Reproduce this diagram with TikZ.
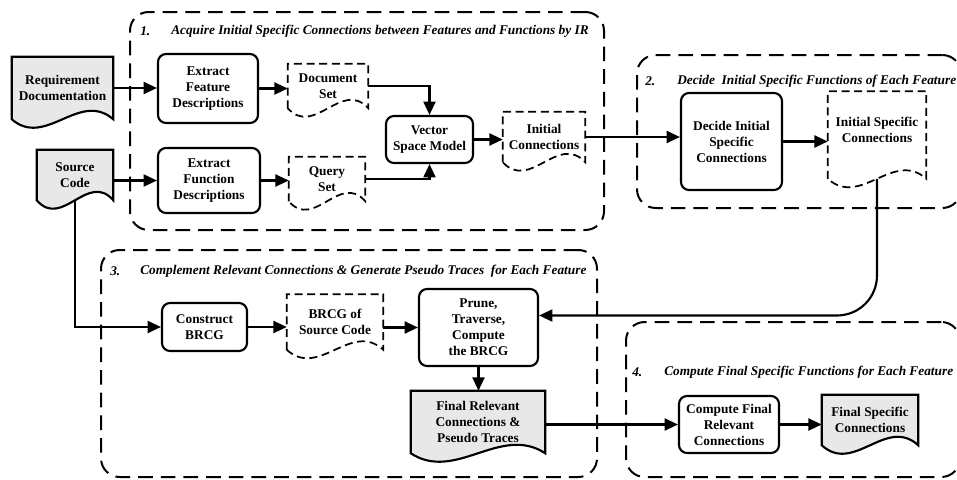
\documentclass[tikz,border=0pt]{standalone}
\usepackage{fontspec}
\setmainfont{Liberation Serif}
\usetikzlibrary{arrows.meta,calc}
\definecolor{docgray}{HTML}{E8E8E8}
\tikzset{
  lw/.style={line width=1.6pt},
  arr/.style={lw,-{Triangle[length=10pt,width=9pt]}},
  procbox/.style={draw,lw,rounded corners=6pt,align=center,font=\bfseries\fontsize{10}{12}\selectfont,inner sep=2pt},
  docnode/.style={align=center,font=\bfseries\fontsize{10}{12}\selectfont,inner sep=2pt},
  docsolid/.style={draw,lw,fill=docgray},
  docdash/.style={draw,line width=1.3pt,dash pattern=on 6pt off 3.5pt},
  cluster/.style={draw,line width=1.5pt,dash pattern=on 11pt off 6pt,rounded corners=14pt},
  ctitle/.style={font=\bfseries\itshape\fontsize{10}{12}\selectfont,anchor=west,inner sep=0pt},
}
\newcommand\docshape[2]{%
  \path[#1] (#2.south west) -- (#2.north west) -- (#2.north east) -- (#2.south east)
   .. controls ($(#2.south east)!1/3!(#2.south west)+(0,22pt)$)
   and ($(#2.south east)!2/3!(#2.south west)+(0,-22pt)$) .. (#2.south west) -- cycle;}
\begin{document}
\begin{tikzpicture}[x=0.75pt,y=-0.75pt]
\useasboundingbox (0,0) rectangle (957,479);
% clusters
\node[cluster,minimum width=474*0.75pt,minimum height=218*0.75pt] (c1) at (367,121) {};
\node[cluster,minimum width=324*0.75pt,minimum height=153*0.75pt] (c2) at (799,131.5) {};
\node[cluster,minimum width=496*0.75pt,minimum height=227*0.75pt] (c3) at (349,363.5) {};
\node[cluster,minimum width=334*0.75pt,minimum height=155*0.75pt] (c4) at (793,399.5) {};
\node[ctitle] (t1n) at (140,31) {1.};
\node[ctitle] (t1) at (171,31) {Acquire Initial Specific Connections between Features and Functions by IR};
\node[ctitle] (t2n) at (645,81) {2.};
\node[ctitle] (t2) at (677,81) {Decide\ \ Initial Specific Functions of Each Feature};
\node[ctitle] (t3n) at (110,271) {3.};
\node[ctitle] (t3) at (140,271) {Complement Relevant Connections \& Generate Pseudo Traces\ \ for Each Feature};
\node[ctitle] (t4n) at (632,372) {4.};
\node[ctitle] (t4) at (664,372) {Compute Final Specific Functions for Each Feature};
% document-shaped nodes
\node[docnode,minimum width=101*0.75pt,minimum height=62*0.75pt] (req) at (62.5,88) {};
\node[docnode,minimum width=76*0.75pt,minimum height=50*0.75pt] (src) at (75,175) {};
\node[docnode,minimum width=80*0.75pt,minimum height=44*0.75pt] (docset) at (328,86) {};
\node[docnode,minimum width=76*0.75pt,minimum height=44*0.75pt] (qset) at (327,179) {};
\node[docnode,minimum width=82*0.75pt,minimum height=50*0.75pt] (initc) at (544,137) {};
\node[docnode,minimum width=98*0.75pt,minimum height=87*0.75pt] (isc) at (877,135) {};
\node[docnode,minimum width=96*0.75pt,minimum height=55*0.75pt] (brcgsc) at (335,322) {};
\node[docnode,minimum width=134*0.75pt,minimum height=62*0.75pt] (frc) at (478,422) {};
\node[docnode,minimum width=96*0.75pt,minimum height=50*0.75pt] (fsc) at (870,420) {};
\docshape{docsolid}{req}
\docshape{docsolid}{src}
\docshape{docdash}{docset}
\docshape{docdash}{qset}
\docshape{docdash}{initc}
\docshape{docdash}{isc}
\docshape{docdash}{brcgsc}
\docshape{docsolid}{frc}
\docshape{docsolid}{fsc}
\node[docnode] (reqt) at (req) {Requirement\\Documentation};
\node[docnode] (srct) at (src) {Source\\Code};
\node[docnode] (docsett) at (docset) {Document\\Set};
\node[docnode] (qsett) at (qset) {Query\\Set};
\node[docnode] (initct) at (initc) {Initial\\Connections};
\node[docnode] (isct) at ([yshift=4pt]isc.center) {Initial Specific\\Connections};
\node[docnode] (brcgsct) at (brcgsc) {BRCG of\\Source Code};
\node[docnode] (frct) at (frc) {Final Relevant\\Connections \&\\Pseudo Traces};
\node[docnode] (fsct) at (fsc) {Final Specific\\Connections};
% process boxes
\node[procbox,minimum width=100*0.75pt,minimum height=69*0.75pt] (efd) at (208,88.5) {Extract\\Feature\\Descriptions};
\node[procbox,minimum width=102*0.75pt,minimum height=65*0.75pt] (efn) at (209,180.5) {Extract\\Function\\Descriptions};
\node[procbox,minimum width=87*0.75pt,minimum height=47*0.75pt] (vsm) at (429.5,139.5) {Vector\\Space Model};
\node[procbox,minimum width=101*0.75pt,minimum height=97*0.75pt] (disc) at (731.5,141.5) {Decide Initial\\Specific\\Connections};
\node[procbox,minimum width=85*0.75pt,minimum height=48*0.75pt] (cbrcg) at (204.5,327) {Construct\\BRCG};
\node[procbox,minimum width=119*0.75pt,minimum height=77*0.75pt] (prune) at (478.5,327.5) {Prune,\\Traverse,\\Compute\\the BRCG};
\node[procbox,minimum width=100*0.75pt,minimum height=57*0.75pt] (cfrc) at (729,424.5) {Compute Final\\Relevant\\Connections};
% connectors
\draw[arr] (req.east) -- (req.east -| efd.west);
\draw[arr] (efn.west -| src.east) -- (efn.west);
\draw[arr] (efd.east) -- (efd.east -| docset.west);
\draw[arr] (efn.east) -- (efn.east -| qset.west);
\draw[arr] (docset.east) -| (vsm.north);
\draw[arr] (qset.east) -| (vsm.south);
\draw[arr] (vsm.east) -- (vsm.east -| initc.west);
\draw[arr] (initc.east) -- (initc.east -| disc.west);
\draw[arr] (disc.east) -- (disc.east -| isc.west);
\draw[arr,rounded corners=30pt] (isc.south) |- ([yshift=9pt]prune.east);
\draw[arr] (src.south) |- (cbrcg.west);
\draw[arr] (cbrcg.east) -- (cbrcg.east -| brcgsc.west);
\draw[arr] (brcgsc.east |- prune.west) -- (prune.west);
\draw[arr] (prune.south) -- (prune.south |- frc.north);
\draw[arr] (frc.east |- cfrc.west) -- (cfrc.west);
\draw[arr] (cfrc.east) -- (cfrc.east -| fsc.west);
\end{tikzpicture}
\end{document}
